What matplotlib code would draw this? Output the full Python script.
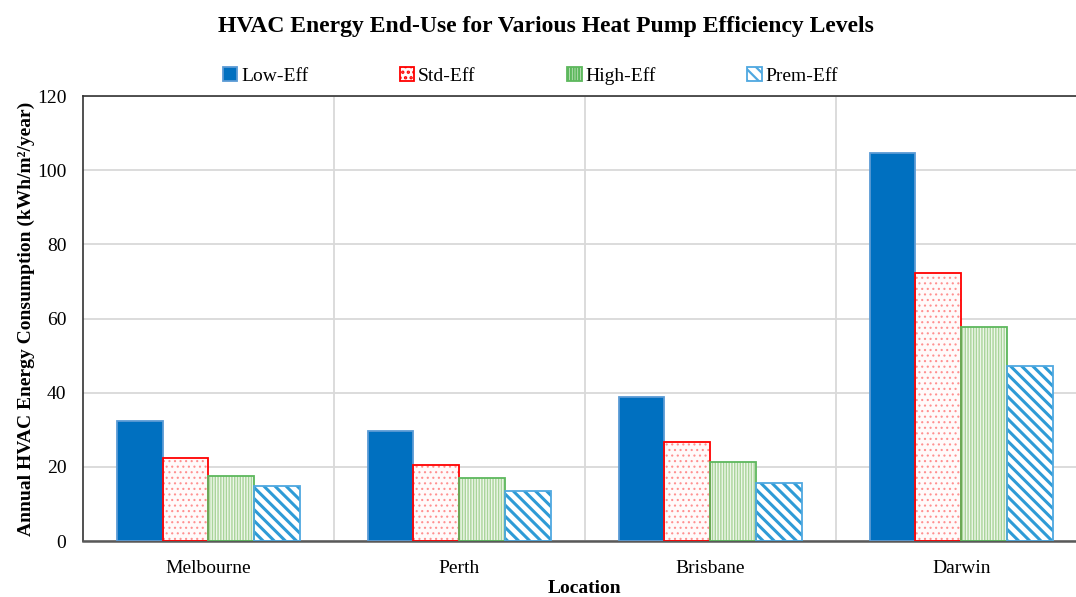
import numpy as np
import matplotlib
matplotlib.use("Agg")
import matplotlib.pyplot as plt

plt.rcParams['font.family'] = ['Liberation Serif', 'DejaVu Serif']

# data
locations = ["Melbourne", "Perth", "Brisbane", "Darwin"]
series_names = ["Low-Eff", "Std-Eff", "High-Eff", "Prem-Eff"]
low_eff = [32.4, 29.7, 38.8, 104.6]
std_eff = [22.4, 20.5, 26.7, 72.3]
high_eff = [17.5, 17.0, 21.3, 57.7]
prem_eff = [14.8, 13.5, 15.6, 47.2]
yticks = [0, 20, 40, 60, 80, 100, 120]

# styles: (face, hatch colour, edge colour, hatch, hatch width)
styles = [
    ("#0070C0", "#0070C0", "#5B9BD5", None, 1.0),
    ("#FFFAFA", "#FF9090", "#FF0000", "...", 0.8),
    ("#EEF7EA", "#A9D49A", "#5DB85D", "||||||", 1.0),
    ("white", "#2E9BD6", "#4FA8E0", "\\\\\\", 2.2),
]

plt.rcParams['hatch.linewidth'] = 1.6

fig = plt.figure(figsize=(10.76, 5.97), dpi=100)
ax = fig.add_axes([0.0771, 0.0938, 0.933, 0.745])

x = np.arange(len(locations))
w = 0.183
all_vals = [low_eff, std_eff, high_eff, prem_eff]
handles = []
for i, (vals, name, st) in enumerate(zip(all_vals, series_names, styles)):
    face, hcol, ecol, hatch, hw = st
    pos = x + (i - 1.5) * w
    b = ax.bar(pos, vals, w, color=face, edgecolor=hcol, hatch=hatch,
               linewidth=0, zorder=2)
    for p in b:
        if hasattr(p, "set_hatch_linewidth"):
            p.set_hatch_linewidth(hw)
    ax.bar(pos, vals, w, fill=False, edgecolor=ecol, linewidth=1.3, zorder=3)
    handles.append(plt.Rectangle((0, 0), 1, 1, facecolor=face, edgecolor=ecol,
                                 hatch=hatch, linewidth=1.3))

ax.set_xlim(-0.5, 3.5)
ax.set_ylim(0, 120)
ax.set_yticks(yticks)
ax.set_xticks(x)
ax.set_xticklabels(locations, fontsize=14)
ax.tick_params(axis='y', labelsize=14, length=0, pad=12)
ax.tick_params(axis='x', length=0, pad=14)

ax.set_axisbelow(True)
ax.yaxis.grid(True, color="#D9D9D9", linewidth=1.3)
for b in [0.5, 1.5, 2.5]:
    ax.axvline(b, color="#D9D9D9", linewidth=1.3, zorder=0)

for s in ["left", "top", "right"]:
    ax.spines[s].set_color("#333333")
    ax.spines[s].set_linewidth(1.2)
ax.spines["bottom"].set_color("#595959")
ax.spines["bottom"].set_linewidth(1.8)

ax.set_ylabel("Annual HVAC Energy Consumption (kWh/m\u00b2/year)",
              fontsize=14, fontweight="bold", labelpad=1)
ax.set_xlabel("Location", fontsize=14, fontweight="bold", labelpad=2)

fig.text(0.507, 0.955, "HVAC Energy End-Use for Various Heat Pump Efficiency Levels",
         ha="center", va="center", fontsize=17, fontweight="bold")

fig.legend(handles, series_names, loc="center", bbox_to_anchor=(0.493, 0.873),
           ncol=4, frameon=False, fontsize=14, handlelength=0.75, handleheight=0.75,
           handletextpad=0.2, columnspacing=4.7)

fig.savefig("out.png", dpi=100)
